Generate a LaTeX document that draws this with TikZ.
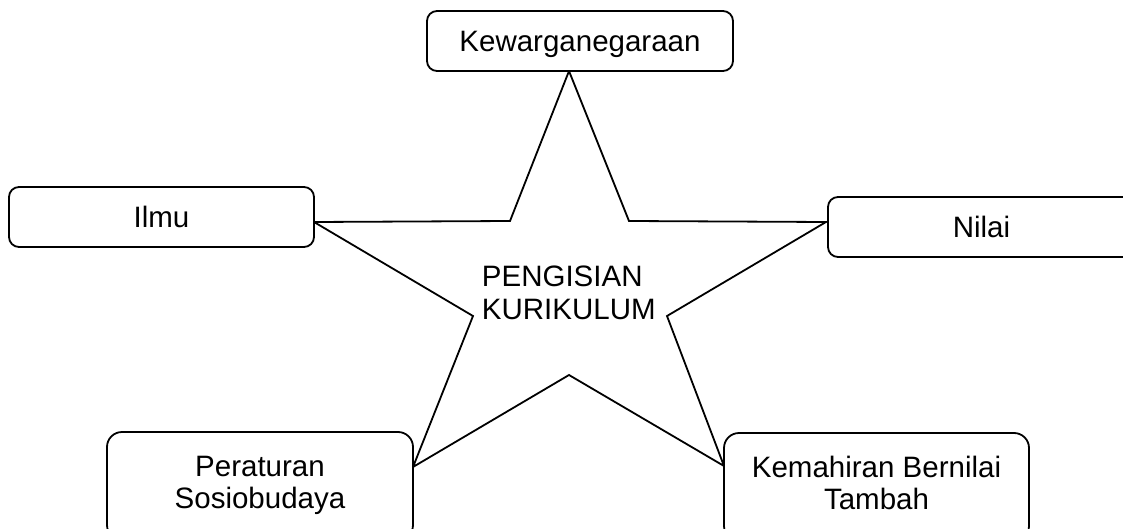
\documentclass[tikz,border=0pt]{standalone}
\usepackage{fontspec}
\setmainfont{Liberation Sans}
\begin{document}
\begin{tikzpicture}[x=1pt,y=-1pt,
  line width=1.8pt,
  box/.style={draw=black, fill=white, rounded corners=10pt, inner sep=0pt,
    minimum width=306pt, minimum height=60pt,
    font=\fontsize{29.5}{31.5}\selectfont, text height=21pt, text depth=0pt},
  bigbox/.style={draw=black, fill=white, rounded corners=15pt, inner sep=0pt,
    minimum width=306pt, minimum height=108pt, align=center,
    font=\fontsize{29.5}{31.5}\selectfont},
  startext/.style={inner sep=0pt, align=left, font=\fontsize{29.5}{33.5}\selectfont}
]
\useasboundingbox (0,0) rectangle (1123,529);
\fill[white] (0,0) rectangle (1123,529);

% star points
\coordinate (stop) at (569,71);
\coordinate (iur) at (629,221);
\coordinate (sr) at (826,222);
\coordinate (ir) at (667,316);
\coordinate (sbr) at (724,466);
\coordinate (ib) at (569,375);
\coordinate (sbl) at (413,467);
\coordinate (il) at (473,316);
\coordinate (sl) at (314,222);
\coordinate (iul) at (510,221);

\draw[line join=miter] (stop) -- (iur) -- (sr) -- (ir) -- (sbr) -- (ib) -- (sbl) -- (il) -- (sl) -- (iul) -- cycle;

\node[box] (kew) at (580,41) {Kewarganegaraan};
\node[box, minimum width=305pt] (ilmu) at (161.5,217) {Ilmu};
\node[box, minimum width=307pt] (nilai) at (981.5,227) {Nilai};
\node[bigbox] (per) at (260,486) {\strut Peraturan\\\strut Sosiobudaya};
\node[bigbox, minimum width=305pt] (kem) at (876.5,487) {\strut Kemahiran Bernilai\\\strut Tambah};

\node[startext, anchor=west] (centre) at (481,296.5) {\strut PENGISIAN\\\strut KURIKULUM};
\end{tikzpicture}
\end{document}
